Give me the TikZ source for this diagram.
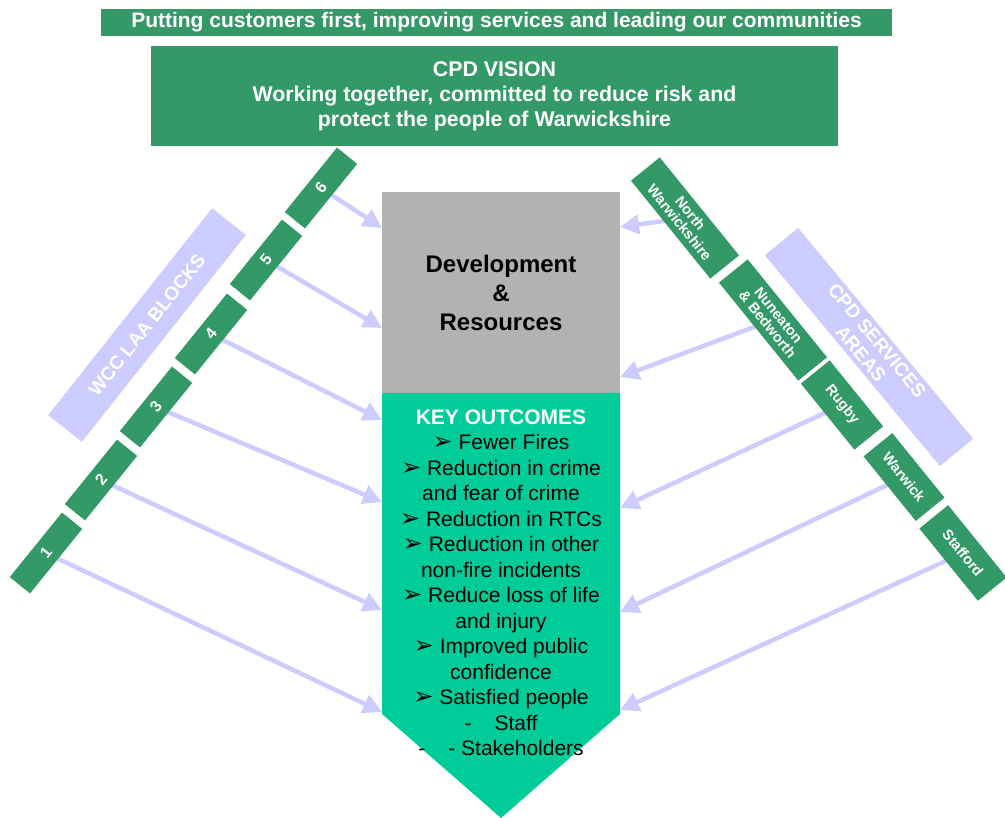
\documentclass[tikz,border=0pt]{standalone}
\usepackage{fontspec}
\setmainfont{Liberation Sans}
\newfontfamily\symfont{DejaVu Sans}
\usetikzlibrary{arrows.meta,backgrounds}
\definecolor{cgreen}{RGB}{51,153,102}
\definecolor{cteal}{RGB}{0,204,153}
\definecolor{cgray}{RGB}{178,178,178}
\definecolor{clav}{RGB}{204,204,255}
\newcommand{\bul}{{\symfont\fontsize{24}{19}\selectfont ➢}\ }
\begin{document}
\begin{tikzpicture}[x=1pt,y=-1pt,
  greenbar/.style={fill=cgreen, inner sep=0pt, text=white, align=center},
  lblock/.style={fill=cgreen, minimum width=83pt, minimum height=26pt, rotate=51, inner sep=0pt, text=white, font=\fontsize{16}{16}\selectfont\bfseries},
  rblock/.style={fill=cgreen, minimum height=37pt, rotate=-51, inner sep=0pt, text=white, align=center, font=\fontsize{14.5}{14}\selectfont\bfseries},
  lavbox/.style={fill=clav, inner sep=0pt, text=white, align=center, font=\fontsize{19}{21}\selectfont\bfseries},
  link/.style={draw=clav, line width=4.5pt, -{Triangle[length=19pt,width=19pt]}}
]
\clip (0,0) rectangle (1005,818);

% top banner and vision
\node[greenbar, minimum width=791pt, minimum height=27pt, font=\fontsize{21}{21}\selectfont\bfseries] (banner) at (496.5,22.5)
  {Putting customers first, improving services and leading our communities};
\node[greenbar, minimum width=687pt, minimum height=100pt, font=\fontsize{21.3}{25}\selectfont\bfseries] (vision) at (494.5,96)
  {CPD VISION\\Working together, committed to reduce risk and\\protect the people of Warwickshire};

% lavender label boxes
\node[lavbox, minimum width=264pt, minimum height=43pt, rotate=51.6] (wcc) at (147,325) {WCC LAA BLOCKS};
\node[lavbox, minimum width=274pt, minimum height=43pt, rotate=-50.3] (cpds) at (869,347) {CPD SERVICES\\AREAS};

% central boxes
\node[fill=cgray, minimum width=238pt, minimum height=201pt, inner sep=0pt, align=center,
  font=\fontsize{24}{29}\selectfont\bfseries] (dev) at (501,292.5) {Development\\\&\\Resources};
\fill[cteal] (382,393) -- (620,393) -- (620,714) -- (501,818) -- (382,714) -- cycle;
\node[align=center, inner sep=0pt, font=\fontsize{21}{25.5}\selectfont] (ko) at (501,583) {%
  \textcolor{white}{\bfseries KEY OUTCOMES}\\
  \bul Fewer Fires\\
  \bul Reduction in crime\\
  and fear of crime\\
  \bul Reduction in RTCs\\
  \bul Reduction in other\\
  non-fire incidents\\
  \bul Reduce loss of life\\
  and injury\\
  \bul Improved public\\
  confidence\\
  \bul Satisfied people\\
  -\hspace{1.1em}Staff\\
  -\hspace{1.1em}- Stakeholders};

% left blocks
\node[lblock] (b6) at (321,188) {6};
\node[lblock] (b5) at (266,260) {5};
\node[lblock] (b4) at (211,334) {4};
\node[lblock] (b3) at (156,407) {3};
\node[lblock] (b2) at (101,480) {2};
\node[lblock] (b1) at (46,553) {1};

% right blocks
\node[rblock, minimum width=126pt] (nw) at (685,218) {North\\Warwickshire};
\node[rblock, minimum width=126pt] (nb) at (773,320) {Nuneaton\\\& Bedworth};
\node[rblock, minimum width=85pt] (rg) at (842,405) {Rugby};
\node[rblock, minimum width=83pt] (wk) at (904,477) {Warwick};
\node[rblock, minimum width=93pt] (st) at (963,553) {Stafford};

% arrow targets
\coordinate (l6) at (382,228);
\coordinate (l5) at (382,328);
\coordinate (l4) at (382,420);
\coordinate (l3) at (382,502);
\coordinate (l2) at (382,610);
\coordinate (l1) at (382,712);
\coordinate (r1) at (620,227);
\coordinate (r2) at (620,377);
\coordinate (r3) at (620,508);
\coordinate (r4) at (620,612);
\coordinate (r5) at (620,710);

\begin{scope}[on background layer]
\fill[white] (0,0) rectangle (1005,818);
\draw[link] (b6.center) -- (l6);
\draw[link] (b5.center) -- (l5);
\draw[link] (b4.center) -- (l4);
\draw[link] (b3.center) -- (l3);
\draw[link] (b2.center) -- (l2);
\draw[link] (b1.center) -- (l1);
\draw[link] (nw.center) -- (r1);
\draw[link] (nb.center) -- (r2);
\draw[link] (rg.center) -- (r3);
\draw[link] (wk.center) -- (r4);
\draw[link] (st.center) -- (r5);
\end{scope}
\end{tikzpicture}
\end{document}
